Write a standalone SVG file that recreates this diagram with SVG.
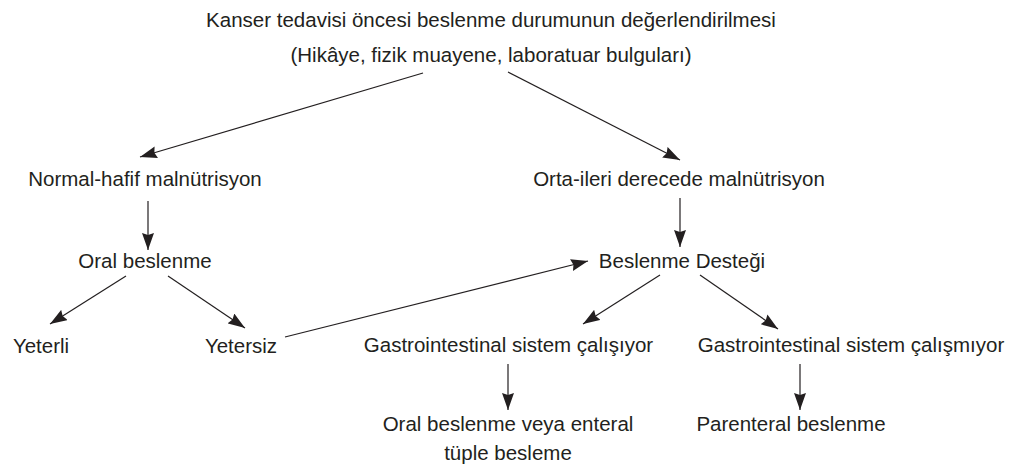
<svg xmlns="http://www.w3.org/2000/svg" width="1013" height="467" viewBox="0 0 1013 467">
<defs>
<marker id="ah" viewBox="0 0 17 12" refX="17" refY="6" markerWidth="17" markerHeight="12" markerUnits="userSpaceOnUse" orient="auto">
<path d="M0,0 L17,6 L0,12 L2,6 Z" fill="#231f20"/>
</marker>
<style>
text{font-family:"Liberation Sans",Arial,Helvetica,sans-serif;font-size:20.5px;fill:#231f20;text-anchor:middle}
.c line{stroke:#231f20;stroke-width:1.2;fill:none;marker-end:url(#ah)}
</style>
</defs>
<rect width="1013" height="467" fill="#ffffff"/>
<g id="root"><text x="491" y="27">Kanser tedavisi öncesi beslenme durumunun değerlendirilmesi</text><text x="491" y="62">(Hikâye, fizik muayene, laboratuar bulguları)</text></g>
<g id="normal"><text x="145" y="186">Normal-hafif malnütrisyon</text></g>
<g id="orta"><text x="679" y="186">Orta-ileri derecede malnütrisyon</text></g>
<g id="oral"><text x="145" y="268">Oral beslenme</text></g>
<g id="destek"><text x="682" y="268">Beslenme Desteği</text></g>
<g id="yeterli"><text x="41" y="353">Yeterli</text></g>
<g id="yetersiz"><text x="241" y="353">Yetersiz</text></g>
<g id="gis1"><text x="508.5" y="352">Gastrointestinal sistem çalışıyor</text></g>
<g id="gis2"><text x="851" y="352">Gastrointestinal sistem çalışmıyor</text></g>
<g id="enteral"><text x="508" y="431">Oral beslenme veya enteral</text><text x="508" y="460">tüple besleme</text></g>
<g id="parenteral"><text x="791" y="431">Parenteral beslenme</text></g>
<g id="connectors" class="c">
<line x1="423" y1="73" x2="140" y2="157"/>
<line x1="508" y1="72" x2="680" y2="160"/>
<line x1="148" y1="201" x2="148" y2="250"/>
<line x1="680" y1="198" x2="680" y2="247"/>
<line x1="126" y1="276" x2="50" y2="324"/>
<line x1="168" y1="276" x2="245" y2="328"/>
<line x1="285" y1="337" x2="588" y2="261"/>
<line x1="660" y1="275" x2="583" y2="324"/>
<line x1="700" y1="275" x2="778" y2="329"/>
<line x1="508" y1="364" x2="508" y2="410"/>
<line x1="800" y1="364" x2="800" y2="410"/>
</g>
</svg>
